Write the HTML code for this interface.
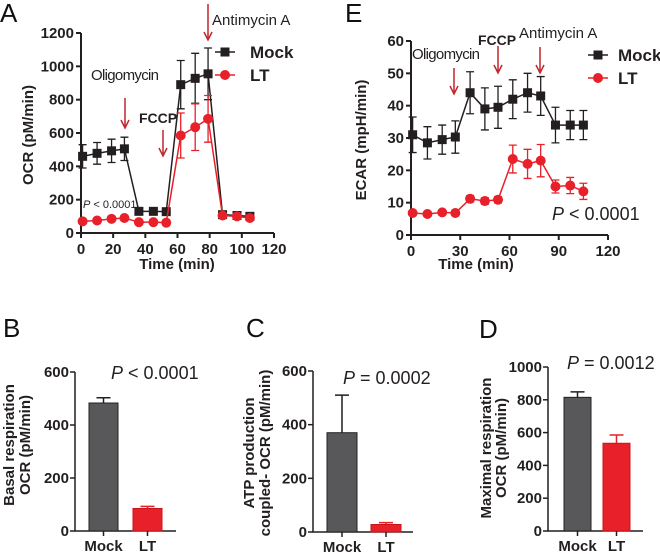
<!DOCTYPE html>
<html><head><meta charset="utf-8">
<style>
html,body{margin:0;padding:0;background:#fff;}
svg{display:block;font-family:"Liberation Sans",sans-serif;}
.tk{font-weight:bold;font-size:15px;fill:#231f20;}
.ttl{font-weight:bold;font-size:15px;fill:#231f20;}
.pl{font-size:26px;fill:#111;}
</style></head>
<body>
<svg id="fig" width="660" height="554" viewBox="0 0 660 554" xmlns="http://www.w3.org/2000/svg">
<g id="gA"></g>
<g id="gE"></g>
<g id="gB"></g>
<g id="gC"></g>
<g id="gD"></g>
</svg>
<script>
// ---- data ----
const timePoints = [1,10,19,27,36,45,53,62,71,79,88,97,105];
const ocrMock = [460,478,493,505,130,130,128,890,928,955,110,105,100];
const ocrMockErr = [70,65,70,70,10,10,10,145,150,155,10,10,10];
const ocrLT = [70,75,85,90,65,65,62,585,635,685,105,100,90];
const ocrLTErr = [8,8,8,8,8,8,8,135,140,140,10,10,10];
const ocrTicksY = [0,200,400,600,800,1000,1200];
const ocrTicksX = [0,20,40,60,80,100,120];
const ecarMock = [31,28.5,29.5,30.3,44,39,39.5,42,44,43,34,34,34];
const ecarMockErr = [5.5,5,4.5,5,6.5,6.5,6.5,6,6,6,5.5,4.5,4.5];
const ecarLT = [6.8,6.5,7,6.8,11.2,10.5,10.9,23.5,22,23,15,15.3,13.5];
const ecarLTErr = [0.5,0.5,0.5,0.5,1,1,1,4.3,4.5,5,2,2.5,2.5];
const ecarTicksY = [0,10,20,30,40,50,60];
const ecarTicksX = [0,30,60,90,120];
const barCategories = ["Mock","LT"];
const basalValues = [483,85];
const basalErr = [20,8];
const atpValues = [370,28];
const atpErr = [140,7];
const maxValues = [815,535];
const maxErr = [33,50];
const ticks600 = [0,200,400,600];
const ticks1000 = [0,200,400,600,800,1000];

const NS="http://www.w3.org/2000/svg";
function mk(parent,tag,attrs,text){const e=document.createElementNS(NS,tag);for(const k in attrs)e.setAttribute(k,attrs[k]);if(text!==undefined)e.textContent=text;parent.appendChild(e);return e;}
const RED="#e8202a", BLK="#231f20";

function lineChart(g,cfg){
  const sx=v=>cfg.x0+(v-cfg.xmin)/(cfg.xmax-cfg.xmin)*(cfg.x1-cfg.x0);
  const sy=v=>cfg.y0-(v)/(cfg.ymax)*(cfg.y0-cfg.y1);
  let ax=mk(g,'path',{d:`M${cfg.x0},${cfg.y1} V${cfg.y0} H${cfg.x1}`,stroke:BLK,'stroke-width':2,fill:'none'});
  
  cfg.ty.forEach(t=>{mk(g,'line',{x1:cfg.x0-5,x2:cfg.x0,y1:sy(t),y2:sy(t),stroke:BLK,'stroke-width':2});
    let l=mk(g,'text',{x:cfg.x0-7,y:sy(t)+5,'text-anchor':'end',class:'tk'},t);
    });
  cfg.tx.forEach(t=>{mk(g,'line',{x1:sx(t),x2:sx(t),y1:cfg.y0,y2:cfg.y0+5,stroke:BLK,'stroke-width':2});
    let l=mk(g,'text',{x:sx(t),y:cfg.y0+21,'text-anchor':'middle',class:'tk'},t);
    });
  [[cfg.mock,cfg.mockErr,BLK,'sq','mock-series'],[cfg.lt,cfg.ltErr,RED,'ci','lt-series']].forEach(([vals,err,col,shape,name])=>{
    const sg=mk(g,'g',{});
    
    mk(sg,'polyline',{points:timePoints.map((t,i)=>sx(t)+','+sy(vals[i])).join(' '),fill:'none',stroke:col,'stroke-width':1.5});
    timePoints.forEach((t,i)=>{const x=sx(t),ya=sy(vals[i]+err[i]),yb=sy(vals[i]-err[i]);
      mk(sg,'path',{d:`M${x},${ya}V${yb}M${x-4},${ya}H${x+4}M${x-4},${yb}H${x+4}`,stroke:col,'stroke-width':1.3,fill:'none'});});
    timePoints.forEach((t,i)=>{const x=sx(t),y=sy(vals[i]);let m;
      if(shape==='sq')m=mk(sg,'rect',{x:x-4.5,y:y-4.5,width:9,height:9,fill:col});
      else m=mk(sg,'circle',{cx:x,cy:y,r:5,fill:col});
      });
  });
}
function arrow(g,x,yt,yb,name){const a=mk(g,'path',{d:`M${x},${yt}V${yb}M${x-4},${yb-8}L${x},${yb}L${x+4},${yb-8}`,stroke:'#c1272d','stroke-width':1.5,fill:'none'});
  }
function txt(g,x,y,s,attrs,name){const t=mk(g,'text',Object.assign({x:x,y:y},attrs),s);return t;}
function legend(g,x,y,tx){
  mk(g,'line',{x1:x-10,x2:x+10,y1:y,y2:y,stroke:BLK,'stroke-width':1.5});
  let m=mk(g,'rect',{x:x-4.5,y:y-4.5,width:9,height:9,fill:BLK});
  
  txt(g,tx,y+6,'Mock',{'font-weight':'bold','font-size':17,fill:BLK},'legend-mock-label');
  mk(g,'line',{x1:x-10,x2:x+10,y1:y+23,y2:y+23,stroke:RED,'stroke-width':1.5});
  m=mk(g,'circle',{cx:x,cy:y+23,r:5,fill:RED});
  
  txt(g,tx,y+29,'LT',{'font-weight':'bold','font-size':17,fill:BLK},'legend-lt-label');
}

// Panel A
const gA=document.getElementById('gA');
txt(gA,0,22,'A',{class:'pl'},'panel-label-a');
lineChart(gA,{x0:81,x1:274,xmin:0,xmax:120,y0:233,y1:33,ymax:1200,ty:ocrTicksY,tx:ocrTicksX,mock:ocrMock,mockErr:ocrMockErr,lt:ocrLT,ltErr:ocrLTErr});
txt(gA,0,0,'OCR (pM/min)',{class:'ttl','font-size':17,'text-anchor':'middle',transform:'translate(33,135) rotate(-90)'},'y-axis-title');
txt(gA,177,269,'Time (min)',{class:'ttl','font-size':17,'text-anchor':'middle'},'x-axis-title');
txt(gA,91,80,'Oligomycin',{'font-size':15,fill:BLK,textLength:68},'oligomycin-label');
arrow(gA,125,98,128,'oligomycin-arrow');
txt(gA,139,123,'FCCP',{'font-size':14,'font-weight':'bold',fill:BLK},'fccp-label');
arrow(gA,163,130,156,'fccp-arrow');
txt(gA,212,25,'Antimycin A',{'font-size':15,fill:BLK},'antimycin-label');
arrow(gA,208,4,40,'antimycin-arrow');
legend(gA,225,52,250);
const pa=txt(gA,83,208,'',{'font-size':11,fill:BLK},'p-value-a');
mk(pa,'tspan',{'font-style':'italic'},'P');mk(pa,'tspan',{},' < 0.0001');

// Panel E
const gE=document.getElementById('gE');
txt(gE,345,22,'E',{class:'pl'},'panel-label-e');
lineChart(gE,{x0:411,x1:608,xmin:0,xmax:120,y0:235,y1:41,ymax:60,ty:ecarTicksY,tx:ecarTicksX,mock:ecarMock,mockErr:ecarMockErr,lt:ecarLT,ltErr:ecarLTErr});
txt(gE,0,0,'ECAR (mpH/min)',{class:'ttl','font-size':17,'text-anchor':'middle',transform:'translate(366,140) rotate(-90)'},'y-axis-title');
txt(gE,476,269,'Time (min)',{class:'ttl','font-size':17,'text-anchor':'middle'},'x-axis-title');
txt(gE,412,59,'Oligomycin',{'font-size':15,fill:BLK,textLength:68},'oligomycin-label');
arrow(gE,454,68,94,'oligomycin-arrow');
txt(gE,478,45,'FCCP',{'font-size':14,'font-weight':'bold',fill:BLK},'fccp-label');
arrow(gE,498,46,73,'fccp-arrow');
txt(gE,519,38,'Antimycin A',{'font-size':15,fill:BLK},'antimycin-label');
arrow(gE,540,47,73,'antimycin-arrow');
legend(gE,598,55,618);
const pe=txt(gE,552,220,'',{'font-size':18,fill:BLK},'p-value-e');
mk(pe,'tspan',{'font-style':'italic'},'P');mk(pe,'tspan',{},' < 0.0001');

// Bar charts
function barChart(g,cfg){
  const sy=v=>cfg.y0-v/cfg.ymax*(cfg.y0-cfg.y1);
  let ax=mk(g,'path',{d:`M${cfg.x0},${cfg.y1} V${cfg.y0} H${cfg.xe}`,stroke:BLK,'stroke-width':1.5,fill:'none'});
  
  cfg.ty.forEach(t=>{mk(g,'line',{x1:cfg.x0-5,x2:cfg.x0,y1:sy(t),y2:sy(t),stroke:BLK,'stroke-width':1.5});
    let l=mk(g,'text',{x:cfg.x0-6,y:sy(t)+5,'text-anchor':'end',class:'tk'},t);
    });
  barCategories.forEach((c,i)=>{
    const bx=cfg.bx[i],w=cfg.bw,col=i===0?'#58585a':RED,ec=i===0?'#231f20':'#c9141c';
    const v=cfg.vals[i],e=cfg.err[i];
    mk(g,'path',{d:`M${bx+w/2},${sy(v)}V${sy(v+e)}M${bx+w/2-7},${sy(v+e)}H${bx+w/2+7}`,stroke:i===0?BLK:RED,'stroke-width':1.5,fill:'none'});
    let b=mk(g,'rect',{x:bx,y:sy(v),width:w,height:sy(0)-sy(v),fill:col,stroke:ec,'stroke-width':1});
    
    mk(g,'line',{x1:bx+w/2,x2:bx+w/2,y1:cfg.y0,y2:cfg.y0+5,stroke:BLK,'stroke-width':1.5});
    let l=mk(g,'text',{x:bx+w/2,y:cfg.y0+20,'text-anchor':'middle',class:'tk','font-size':16},c);
    
  });
  txt(g,0,0,cfg.t1,{class:'ttl','font-size':cfg.fs,'text-anchor':'middle',transform:`translate(${cfg.tx},${cfg.ty0}) rotate(-90)`},'y-axis-title-line1');
  txt(g,0,0,cfg.t2,{class:'ttl','font-size':cfg.fs,'text-anchor':'middle',transform:`translate(${cfg.tx+cfg.fs+1},${cfg.ty0}) rotate(-90)`},'y-axis-title-line2');
  const p=txt(g,cfg.px,cfg.py,'',{'font-size':18,fill:BLK},'p-value');
  mk(p,'tspan',{'font-style':'italic'},'P');mk(p,'tspan',{},cfg.ptxt);
}
const gB=document.getElementById('gB');
txt(gB,3,337,'B',{class:'pl'},'panel-label-b');
barChart(gB,{x0:75,xe:176,y0:531,y1:372,ymax:600,ty:ticks600,bx:[89,133],bw:29,vals:basalValues,err:basalErr,t1:'Basal respiration',t2:'OCR (pM/min)',tx:14,ty0:445,fs:15,px:111,py:379,ptxt:' < 0.0001'});
const gC=document.getElementById('gC');
txt(gC,246,337,'C',{class:'pl'},'panel-label-c');
barChart(gC,{x0:313,xe:413,y0:532,y1:371,ymax:600,ty:ticks600,bx:[327,371],bw:30,vals:atpValues,err:atpErr,t1:'ATP production',t2:'coupled- OCR (pM/min)',tx:254,ty0:453,fs:15,px:343,py:384,ptxt:' = 0.0002'});
const gD=document.getElementById('gD');
txt(gD,479,338,'D',{class:'pl'},'panel-label-d');
barChart(gD,{x0:548,xe:643,y0:531,y1:367,ymax:1000,ty:ticks1000,bx:[564,603],bw:27,vals:maxValues,err:maxErr,t1:'Maximal respiration',t2:'OCR (pM/min)',tx:491,ty0:448,fs:14,px:567,py:369,ptxt:' = 0.0012'});
</script>
</body></html>
